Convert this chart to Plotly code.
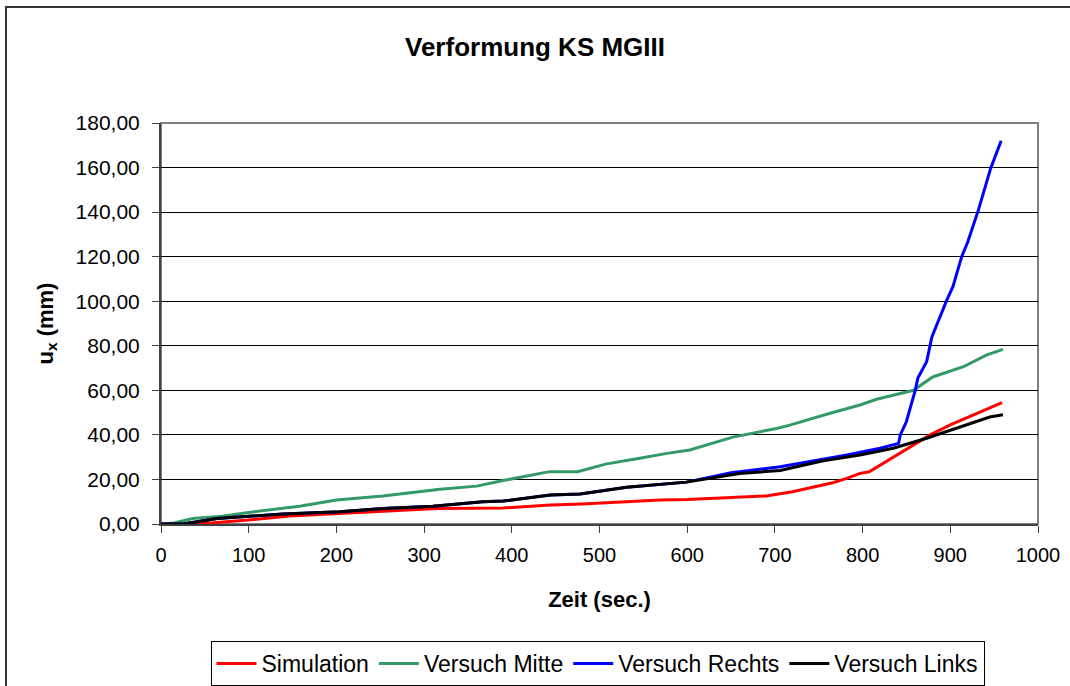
import plotly.graph_objects as go

# ---- data ----
sim_x = [0, 25, 60, 100, 147, 204, 272, 300, 315, 390, 444, 480, 569, 600, 690, 720, 766, 782, 797, 808, 839, 877, 900, 930, 959]
sim_y = [0, 0, 0.6, 1.8, 3.6, 4.8, 6.3, 6.6, 7.0, 7.2, 8.5, 9.0, 10.8, 11.0, 12.6, 14.5, 18.5, 20.5, 22.7, 23.5, 31.0, 40.0, 44.5, 49.5, 54.5]

mitte_x = [0, 15, 36, 70, 100, 130, 158, 200, 253, 318, 360, 390, 443, 475, 508, 546, 577, 603, 652, 702, 717, 763, 797, 816, 858, 880, 915, 941, 960]
mitte_y = [0, 0.5, 2.5, 3.5, 5.2, 6.5, 8.0, 10.8, 12.6, 15.6, 17.0, 19.5, 23.5, 23.5, 27.0, 29.5, 31.7, 33.2, 39.0, 42.9, 44.4, 49.7, 53.4, 56.0, 60.0, 66.0, 70.6, 75.8, 78.4]

rechts_x = [0, 25, 64, 100, 139, 204, 253, 310, 367, 390, 444, 478, 531, 599, 650, 706, 782, 820, 841, 843, 850, 860, 863, 873, 879, 896, 903, 913, 920, 932, 943, 946, 958]
rechts_y = [0, 0, 2.5, 3.5, 4.5, 5.5, 7.0, 8.0, 10.0, 10.3, 13.0, 13.5, 16.5, 18.8, 23.0, 25.7, 31.0, 34.0, 36.2, 40.0, 46.0, 60.0, 65.5, 72.8, 84.0, 100.5, 106.5, 120.0, 126.7, 140.9, 155.0, 159.6, 172.0]

links_x = [0, 25, 64, 100, 139, 204, 253, 310, 367, 390, 444, 478, 531, 599, 660, 706, 755, 797, 835, 873, 911, 945, 960]
links_y = [0, 0, 2.5, 3.5, 4.5, 5.5, 7.0, 8.0, 10.0, 10.3, 13.0, 13.5, 16.5, 18.8, 22.7, 24.0, 28.4, 31.0, 34.0, 38.5, 43.7, 48.0, 49.0]

x_ticks = [0, 100, 200, 300, 400, 500, 600, 700, 800, 900, 1000]
y_ticks = [0, 20, 40, 60, 80, 100, 120, 140, 160, 180]
y_tick_text = ["0,00", "20,00", "40,00", "60,00", "80,00", "100,00", "120,00", "140,00", "160,00", "180,00"]

FONT = "Liberation Sans, Arial, sans-serif"

fig = go.Figure()
fig.add_trace(go.Scatter(x=sim_x, y=sim_y, mode="lines", name="Simulation",
                         line=dict(color="#FF0000", width=3)))
fig.add_trace(go.Scatter(x=mitte_x, y=mitte_y, mode="lines", name="Versuch Mitte",
                         line=dict(color="#339966", width=3)))
fig.add_trace(go.Scatter(x=rechts_x, y=rechts_y, mode="lines", name="Versuch Rechts",
                         line=dict(color="#0000FF", width=3)))
fig.add_trace(go.Scatter(x=links_x, y=links_y, mode="lines", name="Versuch Links",
                         line=dict(color="#000000", width=3)))

fig.update_layout(
    width=1070, height=686,
    margin=dict(l=161, r=32, t=123, b=162, autoexpand=False),
    paper_bgcolor="white", plot_bgcolor="white",
    font=dict(family=FONT, size=20, color="black"),
    title=dict(text="<b>Verformung KS MGIII</b>", x=0.5, xref="container", xanchor="center",
               y=1 - 47 / 686, yref="container", yanchor="middle",
               font=dict(family=FONT, size=26, color="black")),
    showlegend=True,
    legend=dict(orientation="h", xref="container", yref="container",
                x=597.5 / 1070, xanchor="center", y=1 - 641 / 686, yanchor="top",
                bordercolor="black", borderwidth=1, bgcolor="white",
                font=dict(family=FONT, size=23, color="black"),
                itemwidth=40, tracegroupgap=0),
    xaxis=dict(range=[0, 1000], tickvals=x_ticks, ticks="outside", ticklen=7,
               tickcolor="#404040", showline=True, linecolor="#404040", linewidth=2,
               showgrid=False, zeroline=False, ticklabelstandoff=5,
               tickfont=dict(family=FONT, size=20, color="black"),
               title=dict(text="<b>Zeit (sec.)</b>", standoff=27,
                          font=dict(family=FONT, size=22, color="black"))),
    yaxis=dict(range=[0, 180], tickvals=y_ticks, ticktext=y_tick_text, ticks="outside",
               ticklen=7, tickcolor="#404040", showline=True, linecolor="#404040", linewidth=2,
               showgrid=True, gridcolor="black", gridwidth=1, zeroline=False,
               ticklabelstandoff=8,
               tickfont=dict(family=FONT, size=21, color="black"),
               title=dict(text="<b>u<sub>x</sub> (mm)</b>", standoff=16,
                          font=dict(family=FONT, size=22, color="black"))),
)

# plot-area border (top/right gray)
fig.add_shape(type="rect", xref="paper", yref="paper", x0=0, x1=1, y0=0, y1=1,
              line=dict(color="#808080", width=2), layer="below")
# outer chart frame
fig.add_shape(type="rect", xref="paper", yref="paper",
              x0=(6 - 161) / 877, x1=(1080 - 161) / 877,
              y0=(524 - 700) / 401, y1=(524 - 7) / 401,
              line=dict(color="#333333", width=2), layer="below")

fig.write_html("out.html", config={"displayModeBar": False},
               post_script="document.body.style.margin='0';")
